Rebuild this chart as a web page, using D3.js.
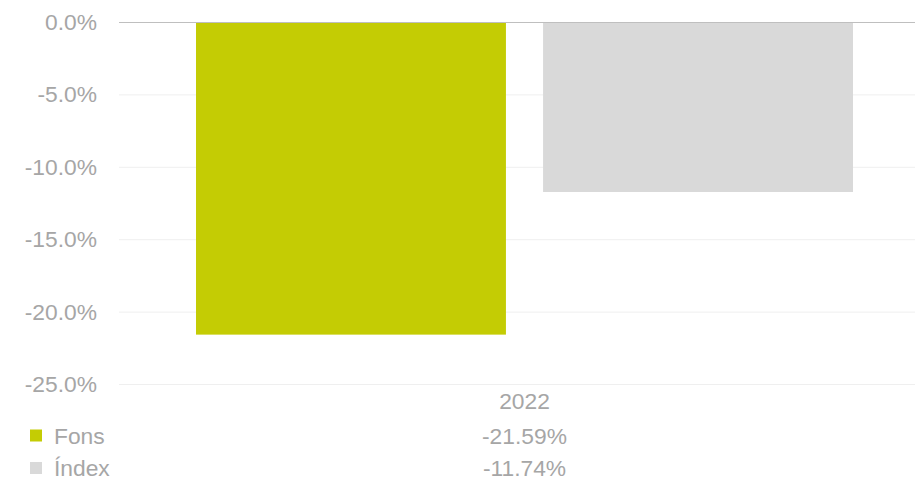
<!DOCTYPE html>
<html><head><meta charset="utf-8">
<script src="https://cdn.jsdelivr.net/npm/d3@7"></script>
<style>body{margin:0;background:#fff}svg{display:block}text{font-family:"Liberation Sans",Arial,sans-serif}</style>
</head><body>
<svg id="c" width="915" height="480"></svg>
<script>
const categories = ["2022"];
const seriesNames = ["Fons", "Índex"];
const fonsValues = [-21.59];
const indexValues = [-11.74];
const yTicks = [0, -5, -10, -15, -20, -25];
const colors = ["#c4cc04", "#d9d9d9"];

const svg = d3.select("#c");
const W = 915;
const FS = 22.8;
const y = d3.scaleLinear().domain([-25, 0]).range([384, 22]);
const x0 = d3.scaleBand().domain(categories).range([119, 930]).paddingOuter(0.1172);
const x1 = d3.scaleBand().domain(seriesNames).range([0, x0.bandwidth()]).paddingInner(0.107);
const textCol = "#a6a6a6";
const fmt = (f, v) => d3.format(f)(v).replace("\u2212", "-");

// gridlines
svg.append("g").selectAll("line").data(yTicks.filter(d => d !== 0)).join("line")
  .attr("x1", 119).attr("x2", W).attr("y1", d => y(d) + 0.5).attr("y2", d => y(d) + 0.5)
  .attr("stroke", "#efefef").attr("stroke-width", 1);

// y labels
svg.append("g").selectAll("text").data(yTicks).join("text")
  .attr("x", 97).attr("y", d => y(d)).attr("dy", "0.35em")
  .attr("text-anchor", "end").attr("fill", textCol).attr("font-size", FS)
  .text(d => fmt(".1f", d) + "%");

// bars
const data = categories.map((c, i) => ({c, vals: [fonsValues[i], indexValues[i]]}));
const g = svg.append("g").selectAll("g").data(data).join("g")
  .attr("transform", d => `translate(${x0(d.c)},0)`);
g.selectAll("rect").data(d => d.vals.map((v, j) => ({k: seriesNames[j], v, j}))).join("rect")
  .attr("x", d => x1(d.k)).attr("width", x1.bandwidth())
  .attr("y", d => y(Math.max(0, d.v))).attr("height", d => Math.abs(y(d.v) - y(0)))
  .attr("fill", d => colors[d.j]);

// zero line
svg.append("line").attr("x1", 119).attr("x2", W).attr("y1", y(0) + 0.5).attr("y2", y(0) + 0.5)
  .attr("stroke", "#bfbfbf").attr("stroke-width", 1);

// table
const cx = c => x0(c) + x0.bandwidth() / 2;
svg.append("g").selectAll("text").data(categories).join("text")
  .attr("x", d => cx(d)).attr("y", 401).attr("dy", "0.35em").attr("text-anchor", "middle")
  .attr("fill", textCol).attr("font-size", FS).text(d => d);

const rows = [fonsValues, indexValues];
const rowY = [436, 468.5];
rows.forEach((vals, r) => {
  svg.append("rect").attr("x", 30).attr("y", rowY[r] - 6.5).attr("width", 12).attr("height", 12).attr("fill", colors[r]);
  svg.append("text").attr("x", 54).attr("y", rowY[r]).attr("dy", "0.35em")
    .attr("fill", textCol).attr("font-size", FS).text(seriesNames[r]);
  svg.append("g").selectAll("text").data(categories).join("text")
    .attr("x", d => cx(d)).attr("y", rowY[r]).attr("dy", "0.35em").attr("text-anchor", "middle")
    .attr("fill", textCol).attr("font-size", FS).text((d, i) => fmt(".2f", vals[i]) + "%");
});
</script>
</body></html>
